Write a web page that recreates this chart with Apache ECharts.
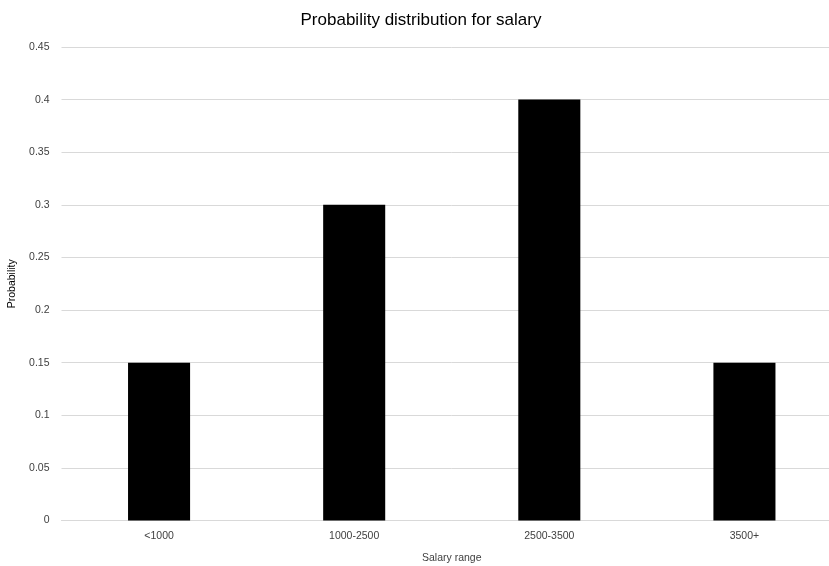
<!DOCTYPE html>
<html>
<head>
<meta charset="utf-8">
<script src="https://cdn.jsdelivr.net/npm/echarts@6/dist/echarts.min.js"></script>
<style>
  html, body { margin: 0; padding: 0; background: #fff; width: 829px; height: 566px; overflow: hidden; }
  /* plot area runs past the right edge of the window, so the canvas is a bit wider */
  #chart { width: 842px; height: 566px; }
</style>
</head>
<body>
<div id="chart"></div>
<script>
// Salary ranges and their probabilities
const categories = ['<1000', '1000-2500', '2500-3500', '3500+'];
const probabilities = [0.15, 0.3, 0.4, 0.15];
const yTicks = { min: 0, max: 0.45, interval: 0.05 };

const font = 'Liberation Sans, Arial, sans-serif';
const chart = echarts.init(document.getElementById('chart'));
chart.setOption({
  animation: false,
  backgroundColor: '#ffffff',
  title: {
    text: 'Probability distribution for salary',
    left: 'center',
    top: 7,
    textStyle: { fontFamily: font, fontSize: 17, fontWeight: 'normal', color: '#000' }
  },
  grid: { left: 61.5, right: 0, top: 47, bottom: 45.5, containLabel: false, outerBoundsMode: 'none' },
  xAxis: {
    type: 'category',
    data: categories,
    name: 'Salary range',
    nameLocation: 'middle',
    nameGap: 32,
    nameTextStyle: { fontFamily: font, fontSize: 10.5, color: '#404040' },
    axisLine: { lineStyle: { color: '#d9d9d9', width: 1 } },
    axisTick: { show: false },
    axisLabel: { fontFamily: font, fontSize: 10.5, color: '#404040', margin: 10 }
  },
  yAxis: {
    type: 'value',
    min: yTicks.min,
    max: yTicks.max,
    interval: yTicks.interval,
    name: 'Probability',
    nameLocation: 'middle',
    nameGap: 44,
    nameMoveOverlap: false,
    nameTextStyle: { fontFamily: font, fontSize: 10.5, color: '#000' },
    axisLine: { show: false },
    axisTick: { show: false },
    axisLabel: {
      fontFamily: font, fontSize: 10.5, color: '#404040', margin: 12,
      formatter: v => String(parseFloat(v.toFixed(2)))
    },
    splitLine: { lineStyle: { color: '#d9d9d9', width: 1 } }
  },
  series: [{
    type: 'bar',
    data: probabilities,
    barWidth: '31.8%',
    itemStyle: { color: '#000000' }
  }]
});
</script>
</body>
</html>
